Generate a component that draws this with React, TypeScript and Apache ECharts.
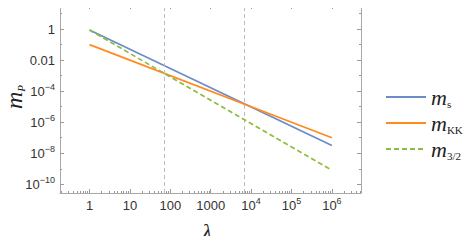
import React, { useEffect, useRef } from "react";
import * as echarts from "echarts";

// ---- data ----
const lambdaValues = [1, 1e6];
const mS = [0.86, 3.2e-8];
const mKK = [0.1, 1e-7];
const m32 = [0.86, 8e-10];
const vLines = [72, 6900];
const seriesNames = ["m_s", "m_KK", "m_3/2"];
const xTickValues = [1, 10, 100, 1000, 1e4, 1e5, 1e6];
const yLabelValues = [1, 0.01, 1e-4, 1e-6, 1e-8, 1e-10];
const xRange = [0.186, 5.25e6];
const yRange = [2.75e-11, 35.5];

const lg = (v: number) => Math.log10(v);

export default function App() {
  const ref = useRef<HTMLDivElement>(null);
  useEffect(() => {
    if (!ref.current) return;
    const chart = echarts.init(ref.current, undefined, { renderer: "svg" });

    const xMin = lg(xRange[0]);
    const xMax = lg(xRange[1]);
    const yMin = lg(yRange[0]);
    const yMax = lg(yRange[1]);

    const xMajor = xTickValues.map(lg);
    const xMinor: number[] = [];
    for (let d = -1; d <= 6; d++) {
      for (let k = 2; k <= 9; k++) {
        const v = d + Math.log10(k);
        if (v > xMin && v < xMax) xMinor.push(v);
      }
    }
    const yMajor = yLabelValues.map(lg);
    const yMinor: number[] = [];
    for (let d = -11; d <= 1; d += 2) {
      if (d > yMin && d < yMax) yMinor.push(d);
    }

    const frameColor = "#a9a9a9";
    const tickColor = "#9a9a9a";
    const font = "Liberation Sans, Arial, sans-serif";
    const labelRich = {
      b: { fontSize: 13, lineHeight: 18, color: "#333", fontFamily: font },
      sup: { fontSize: 9, lineHeight: 8, verticalAlign: "top" as const, color: "#333", fontFamily: font },
    };
    const fmtX = (v: number) => {
      const n = Math.round(v);
      if (n <= 3) return `{b|${Math.pow(10, n)}}`;
      return `{b|10}{sup|${n}}`;
    };
    const fmtY = (v: number) => {
      const n = Math.round(v);
      if (n === 0) return "{b|1}";
      if (n === -2) return "{b|0.01}";
      return `{b|10}{sup|−${-n}}`;
    };

    const mkX = (position: "top" | "bottom", major: boolean, labels: boolean) => ({
      type: "value" as const,
      position,
      min: xMin,
      max: xMax,
      splitLine: { show: false },
      axisLine: { show: major, onZero: false, lineStyle: { color: frameColor, width: 1 } },
      axisTick: {
        show: true,
        inside: true,
        length: major ? 4 : 2,
        customValues: major ? xMajor : xMinor,
        lineStyle: { color: tickColor, width: 1 },
      },
      axisLabel: labels
        ? { show: true, customValues: xMajor, formatter: fmtX, margin: 3, rich: labelRich }
        : { show: false },
    });
    const mkY = (position: "left" | "right", major: boolean, labels: boolean) => ({
      type: "value" as const,
      position,
      min: yMin,
      max: yMax,
      splitLine: { show: false },
      axisLine: { show: major, onZero: false, lineStyle: { color: frameColor, width: 1 } },
      axisTick: {
        show: true,
        inside: true,
        length: major ? 4 : 2,
        customValues: major ? yMajor : yMinor,
        lineStyle: { color: tickColor, width: 1 },
      },
      axisLabel: labels
        ? { show: true, customValues: yMajor, formatter: fmtY, margin: 5, rich: labelRich }
        : { show: false },
    });

    const serif = "Liberation Serif, Times New Roman, serif";
    const legendRich = {
      m: { fontSize: 22, lineHeight: 24, fontStyle: "italic" as const, fontFamily: serif, color: "#222" },
      s: { fontSize: 11, lineHeight: 12, verticalAlign: "bottom" as const, fontFamily: serif, color: "#222" },
    };
    const legendFmt = (name: string) => {
      const sub = name.split("_")[1];
      return `{m|m}{s|${sub}}`;
    };

    const toData = (ys: number[]) => lambdaValues.map((x, i) => [lg(x), lg(ys[i])]);

    chart.setOption({
      animation: false,
      grid: { left: 60, top: 5, right: 113, bottom: 51, containLabel: false },
      xAxis: [mkX("bottom", true, true), mkX("bottom", false, false), mkX("top", true, false), mkX("top", false, false)],
      yAxis: [mkY("left", true, true), mkY("left", false, false), mkY("right", true, false), mkY("right", false, false)],
      legend: {
        orient: "vertical",
        left: 380,
        top: 81,
        itemWidth: 40,
        itemHeight: 10,
        itemGap: 3,
        data: seriesNames,
        formatter: legendFmt,
        itemStyle: { opacity: 0 },
        lineStyle: { width: 2 },
        textStyle: { rich: legendRich },
      },
      graphic: [
        {
          type: "text",
          x: 207,
          y: 231,
          style: {
            text: "λ",
            font: "italic 22px 'Liberation Serif', serif",
            fill: "#222",
            align: "center",
            verticalAlign: "middle",
          },
        },
        {
          type: "text",
          x: 14,
          y: 97,
          rotation: Math.PI / 2,
          style: {
            text: "{m|m}{p|P}",
            align: "center",
            verticalAlign: "middle",
            rich: {
              m: { fontSize: 24, lineHeight: 24, fontStyle: "italic", fontFamily: serif, fill: "#222" },
              p: { fontSize: 11, lineHeight: 12, verticalAlign: "bottom", fontStyle: "italic", fontFamily: serif, fill: "#222" },
            },
          },
        },
      ],
      series: [
        {
          name: seriesNames[0],
          type: "line",
          data: toData(mS),
          symbol: "none",
          lineStyle: { color: "#6a8cc8", width: 1.7 },
          itemStyle: { color: "#6a8cc8" },
          markLine: {
            silent: true,
            symbol: "none",
            label: { show: false },
            lineStyle: { color: "#bdbdbd", type: [4, 3], width: 1 },
            data: vLines.map((v) => ({ xAxis: lg(v) })),
          },
          z: 3,
        },
        {
          name: seriesNames[1],
          type: "line",
          data: toData(mKK),
          symbol: "none",
          lineStyle: { color: "#ff8a1e", width: 1.7 },
          itemStyle: { color: "#ff8a1e" },
          z: 4,
        },
        {
          name: seriesNames[2],
          type: "line",
          data: toData(m32),
          symbol: "none",
          lineStyle: { color: "#8cbd3c", width: 1.7, type: [5, 3] },
          itemStyle: { color: "#8cbd3c" },
          z: 5,
        },
      ],
    });
    return () => chart.dispose();
  }, []);
  return <div ref={ref} style={{ width: 474, height: 244, margin: -8 }} />;
}
